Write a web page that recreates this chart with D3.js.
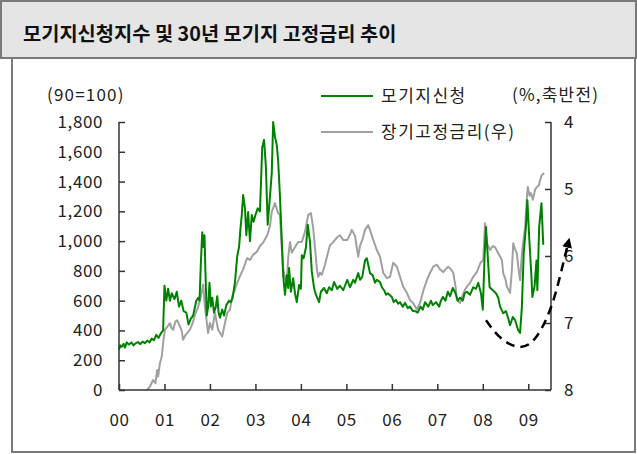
<!DOCTYPE html>
<html>
<head>
<meta charset="utf-8">
<script src="https://cdn.jsdelivr.net/npm/d3@7"></script>
<style>
  body { margin: 0; background: #fff; }
  text { font-family: "Noto Sans CJK KR", "Noto Sans", sans-serif; }
</style>
</head>
<body>
<svg id="chart"></svg>
<script>
const W = 637, H = 454;

const titleText = "모기지신청지수 및 30년 모기지 고정금리 추이";
const leftUnit = "(90=100)";
const rightUnit = "(%,축반전)";
const legendNames = ["모기지신청", "장기고정금리(우)"];

const yearTicks = [2000, 2001, 2002, 2003, 2004, 2005, 2006, 2007, 2008, 2009];
const yearLabels = ["00", "01", "02", "03", "04", "05", "06", "07", "08", "09"];
const leftTicks = [0, 200, 400, 600, 800, 1000, 1200, 1400, 1600, 1800];
const rightTicks = [4, 5, 6, 7, 8];

// 모기지신청지수 [연도, 지수]
const appIndex = [
  [2000.00,270],[2000.03,300],[2000.06,290],[2000.10,310],[2000.13,285],[2000.17,320],[2000.22,305],[2000.27,320],
  [2000.32,300],[2000.37,315],[2000.42,322],[2000.47,308],[2000.52,325],[2000.57,315],[2000.62,332],[2000.67,320],
  [2000.72,345],[2000.77,335],[2000.82,370],[2000.87,350],[2000.92,380],[2000.97,400],
  [2001.00,700],[2001.04,600],[2001.08,680],[2001.12,600],[2001.16,650],[2001.22,610],[2001.27,660],[2001.32,560],
  [2001.37,600],[2001.42,530],[2001.48,520],[2001.53,440],[2001.58,480],[2001.63,500],[2001.70,600],[2001.74,620],
  [2001.77,600],[2001.80,850],[2001.83,1060],[2001.86,960],[2001.88,1040],[2001.90,800],[2001.93,500],[2001.96,560],
  [2001.99,720],[2002.02,560],[2002.05,620],[2002.09,520],[2002.13,560],[2002.16,630],[2002.19,520],[2002.22,485],
  [2002.27,540],[2002.31,500],[2002.36,570],[2002.42,600],[2002.46,590],[2002.50,620],[2002.55,725],[2002.60,900],
  [2002.64,960],[2002.67,1080],[2002.70,1175],[2002.73,1310],[2002.77,1220],[2002.80,1040],[2002.84,1195],[2002.88,1000],
  [2002.92,1175],[2002.96,1130],[2003.00,1175],[2003.05,1220],[2003.10,1200],[2003.15,1630],[2003.19,1680],[2003.23,1500],
  [2003.27,1110],[2003.32,1300],[2003.36,1460],[2003.39,1800],[2003.43,1700],[2003.47,1645],[2003.50,1540],[2003.54,1300],
  [2003.58,1000],[2003.61,770],[2003.65,640],[2003.69,770],[2003.72,685],[2003.74,820],[2003.78,660],[2003.83,750],
  [2003.87,650],[2003.91,590],[2003.96,705],[2004.00,680],[2004.02,905],[2004.06,885],[2004.11,955],[2004.15,1110],
  [2004.20,995],[2004.24,795],[2004.29,685],[2004.33,640],[2004.40,590],[2004.44,660],[2004.51,685],[2004.57,650],
  [2004.62,690],[2004.68,670],[2004.73,725],[2004.80,680],[2004.86,700],[2004.93,670],[2005.02,740],[2005.08,690],
  [2005.15,740],[2005.19,720],[2005.26,785],[2005.30,740],[2005.35,760],[2005.41,870],[2005.45,885],[2005.52,785],
  [2005.58,770],[2005.63,720],[2005.67,740],[2005.74,725],[2005.78,690],[2005.83,670],[2005.87,640],[2005.91,650],
  [2006.00,625],[2006.04,590],[2006.09,605],[2006.14,580],[2006.18,590],[2006.24,560],[2006.29,585],[2006.35,550],
  [2006.40,560],[2006.46,530],[2006.51,530],[2006.57,520],[2006.63,560],[2006.68,540],[2006.73,590],[2006.80,560],
  [2006.86,600],[2006.90,570],[2006.97,590],[2007.04,560],[2007.08,600],[2007.12,625],[2007.18,600],[2007.23,660],
  [2007.28,630],[2007.34,685],[2007.40,650],[2007.45,600],[2007.50,620],[2007.56,600],[2007.60,650],[2007.65,660],
  [2007.72,640],[2007.79,690],[2007.85,680],[2007.90,720],[2007.96,650],[2008.00,540],[2008.04,900],[2008.07,1095],
  [2008.11,895],[2008.15,690],[2008.22,670],[2008.29,650],[2008.34,620],[2008.38,560],[2008.45,515],[2008.51,530],
  [2008.56,480],[2008.60,435],[2008.66,490],[2008.71,470],[2008.78,400],[2008.82,383],[2008.86,560],[2008.90,920],
  [2008.95,1100],[2008.98,1275],[2009.02,1030],[2009.07,760],[2009.09,625],[2009.14,700],[2009.18,870],[2009.20,670],
  [2009.24,1095],[2009.29,1255],[2009.33,975]
];

// 30년 고정금리 [연도, %]
const fixedRate = [
  [2000.00,8.3],[2000.15,8.5],[2000.35,8.4],[2000.55,8.15],[2000.62,8.0],[2000.68,7.95],[2000.75,7.85],[2000.80,7.9],
  [2000.84,7.7],[2000.86,7.8],[2000.90,7.6],[2000.94,7.5],[2000.97,7.3],[2001.01,7.1],[2001.06,7.06],[2001.12,7.0],
  [2001.16,7.08],[2001.19,7.1],[2001.24,6.98],[2001.28,6.96],[2001.34,7.05],[2001.38,7.12],[2001.41,7.25],[2001.46,7.18],
  [2001.50,7.15],[2001.56,7.1],[2001.62,7.0],[2001.67,6.88],[2001.74,6.76],[2001.80,6.6],[2001.85,6.43],[2001.89,6.76],
  [2001.96,7.15],[2002.00,7.0],[2002.05,7.1],[2002.11,6.85],[2002.18,7.1],[2002.27,7.2],[2002.33,7.0],[2002.38,6.85],
  [2002.44,6.8],[2002.49,6.6],[2002.55,6.5],[2002.60,6.4],[2002.66,6.3],[2002.73,6.2],[2002.78,6.1],[2002.82,6.03],
  [2002.88,6.06],[2002.95,5.98],[2003.03,5.94],[2003.10,5.85],[2003.17,5.8],[2003.26,5.69],[2003.32,5.55],[2003.36,5.34],
  [2003.43,5.21],[2003.47,5.3],[2003.50,5.36],[2003.54,5.39],[2003.58,5.88],[2003.61,6.18],[2003.65,6.33],[2003.69,6.39],
  [2003.72,6.03],[2003.76,5.79],[2003.80,5.95],[2003.87,5.87],[2003.94,5.79],[2004.02,5.79],[2004.09,5.64],[2004.16,5.39],
  [2004.22,5.36],[2004.27,5.58],[2004.31,5.88],[2004.35,6.18],[2004.38,6.31],[2004.42,6.25],[2004.46,6.28],[2004.53,6.13],
  [2004.58,5.99],[2004.64,5.84],[2004.70,5.8],[2004.75,5.76],[2004.80,5.72],[2004.86,5.69],[2004.93,5.76],[2005.02,5.76],
  [2005.08,5.68],[2005.12,5.61],[2005.19,5.7],[2005.26,6.01],[2005.30,5.85],[2005.35,5.76],[2005.41,5.61],[2005.48,5.54],
  [2005.52,5.61],[2005.59,5.76],[2005.67,5.91],[2005.74,6.01],[2005.81,6.25],[2005.89,6.33],[2005.96,6.31],[2006.03,6.1],
  [2006.11,6.16],[2006.18,6.31],[2006.25,6.46],[2006.33,6.55],[2006.40,6.66],[2006.47,6.7],[2006.55,6.8],[2006.62,6.7],
  [2006.70,6.5],[2006.77,6.36],[2006.84,6.25],[2006.91,6.16],[2006.99,6.13],[2007.06,6.2],[2007.13,6.24],[2007.18,6.2],
  [2007.24,6.16],[2007.30,6.2],[2007.35,6.25],[2007.40,6.45],[2007.43,6.66],[2007.50,6.7],[2007.55,6.6],[2007.61,6.5],
  [2007.66,6.45],[2007.72,6.4],[2007.80,6.3],[2007.87,6.24],[2007.95,6.1],[2008.01,6.06],[2008.05,5.51],[2008.09,5.81],
  [2008.16,5.91],[2008.22,5.85],[2008.27,5.87],[2008.34,5.96],[2008.42,6.06],[2008.45,6.26],[2008.50,6.35],[2008.53,6.46],
  [2008.60,6.55],[2008.64,6.2],[2008.67,5.81],[2008.71,5.9],[2008.75,5.96],[2008.78,6.16],[2008.82,6.36],[2008.86,5.96],
  [2008.93,5.57],[2008.97,5.12],[2008.99,4.97],[2009.03,5.1],[2009.06,5.06],[2009.10,5.16],[2009.15,5.01],[2009.19,4.97],
  [2009.23,4.95],[2009.26,4.87],[2009.30,4.79],[2009.35,4.76]
];

// 점선 화살표 (연도, 금리축 값)
const trendArrow = [[2008.07,6.96],[2008.38,7.25],[2008.84,7.41],[2009.19,7.25],[2009.54,6.75],[2009.76,6.13],[2009.88,5.8]];

const svg = d3.select("#chart").attr("width", W).attr("height", H);

// frame: title band box + body box
const frameColor = "#7a7a7a";
svg.append("rect").attr("x", 0).attr("y", 0).attr("width", W).attr("height", H).attr("fill", "#fff");
svg.append("rect").attr("x", 1).attr("y", 1).attr("width", W - 2).attr("height", 57)
  .attr("fill", "#e5e5e5").attr("stroke", frameColor).attr("stroke-width", 2);
svg.append("path")
  .attr("d", `M12,58V452H${W - 2}V58`)
  .attr("fill", "none").attr("stroke", frameColor).attr("stroke-width", 2);

svg.append("text")
  .attr("x", 23).attr("y", 41)
  .attr("font-size", 19.8).attr("font-weight", 700).attr("fill", "#111")
  .text(titleText);

const x = d3.scaleLinear().domain([2000, 2009.5]).range([119, 551]);
const yL = d3.scaleLinear().domain([0, 1800]).range([390, 122]);
const yR = d3.scaleLinear().domain([4, 8]).range([122, 390]);

svg.append("clipPath").attr("id", "plot")
  .append("rect").attr("x", 119).attr("y", 122).attr("width", 432).attr("height", 268);

const lineL = d3.line().x(d => x(d[0])).y(d => yL(d[1]));
const lineR = d3.line().x(d => x(d[0])).y(d => yR(d[1]));

svg.append("path").datum(fixedRate)
  .attr("clip-path", "url(#plot)")
  .attr("d", lineR).attr("fill", "none")
  .attr("stroke", "#a0a0a0").attr("stroke-width", 2).attr("stroke-linejoin", "round");

svg.append("path").datum(appIndex)
  .attr("d", lineL).attr("fill", "none")
  .attr("stroke", "#008200").attr("stroke-width", 2).attr("stroke-linejoin", "round");

// axes
const axisColor = "#333";
const gL = svg.append("g").attr("transform", "translate(119,0)")
  .call(d3.axisLeft(yL).tickValues(leftTicks).tickSize(-6).tickPadding(16).tickFormat(d3.format(",")));
const gR = svg.append("g").attr("transform", "translate(551,0)")
  .call(d3.axisRight(yR).tickValues(rightTicks).tickSize(-6).tickPadding(13).tickFormat(d3.format("d")));
const gX = svg.append("g").attr("transform", "translate(0,390)")
  .call(d3.axisBottom(x).tickValues(yearTicks).tickSize(-6).tickPadding(24).tickFormat((d, i) => yearLabels[i]));

[gL, gR, gX].forEach(g => {
  g.select(".domain").attr("stroke", axisColor).attr("stroke-width", 1.5);
  g.selectAll(".tick line").attr("stroke", axisColor).attr("stroke-width", 1.5);
  g.selectAll(".tick text").attr("fill", "#222").attr("font-size", 17).attr("letter-spacing", 0.6)
    .style("font-family", "'Noto Sans CJK KR', sans-serif");
});
gL.select(".domain").attr("d", "M0,122V390");
gR.select(".domain").attr("d", "M0,122V390");
gX.select(".domain").attr("d", "M119,0H551");

// units
svg.append("text").attr("x", 47).attr("y", 101).attr("font-size", 17).attr("letter-spacing", 1.2)
  .attr("fill", "#222").text(leftUnit);
svg.append("text").attr("x", 512).attr("y", 101).attr("font-size", 17).attr("letter-spacing", 1.2)
  .attr("fill", "#222").text(rightUnit);

// legend
const legendColors = ["#008200", "#a0a0a0"];
const legendY = [96, 132];
legendNames.forEach((name, i) => {
  svg.append("line").attr("x1", 321).attr("x2", 373).attr("y1", legendY[i]).attr("y2", legendY[i])
    .attr("stroke", legendColors[i]).attr("stroke-width", 2);
  svg.append("text").attr("x", 381).attr("y", legendY[i] + 6).attr("font-size", 17).attr("letter-spacing", 1.5)
    .attr("fill", "#222").text(name);
});

// dashed arrow
svg.append("defs").append("marker")
  .attr("id", "head").attr("viewBox", "0 0 10 10").attr("refX", 5).attr("refY", 5)
  .attr("markerWidth", 4).attr("markerHeight", 4).attr("orient", "auto")
  .append("path").attr("d", "M0,0L10,5L0,10z").attr("fill", "#000");

svg.append("path").datum(trendArrow)
  .attr("d", d3.line().x(d => x(d[0])).y(d => yR(d[1])).curve(d3.curveBasis))
  .attr("fill", "none").attr("stroke", "#000").attr("stroke-width", 2.5)
  .attr("stroke-dasharray", "9,6").attr("marker-end", "url(#head)");
</script>
</body>
</html>
